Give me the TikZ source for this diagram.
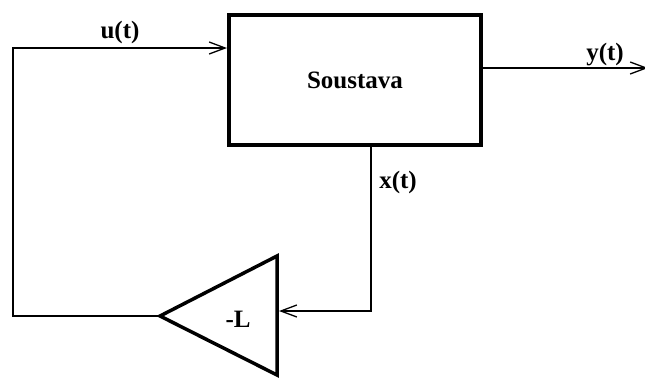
\documentclass[tikz,border=0pt]{standalone}
\usepackage{fontspec}
\setmainfont{Liberation Serif}
\usetikzlibrary{arrows.meta,positioning,calc}

\begin{document}
\begin{tikzpicture}[
    x=1pt, y=-1pt,
    blok/.style={draw, line width=4pt, minimum width=252pt, minimum height=130pt, font=\fontsize{25}{28}\selectfont\bfseries},
    sig/.style={-{Straight Barb[length=16pt, width=12pt]}, line width=1.3pt},
    gain/.style={line width=3.5pt, miter limit=20},
    lbl/.style={font=\fontsize{25}{28}\selectfont\bfseries, inner sep=0pt},
]
\useasboundingbox (0,0) rectangle (645,378);

\node[blok] (sys) at (355,80) {Soustava};

% zesilovac -L
\coordinate (tip) at (160,316);
\coordinate (gtop) at (277,256);
\coordinate (gbot) at (277,375);
\coordinate (gin) at (279,311);
\draw[gain] (tip) -- (gtop) -- (gbot) -- cycle;
\node[lbl] (L) at (238,319) {-L};

\coordinate (corner) at (13,48);
\coordinate (yend) at (648,68);

\draw[sig] (tip) -| (corner) -- (corner -| sys.west);
\draw[sig] (sys.east |- yend) -- (yend);
\draw[sig] ([xshift=16pt]sys.south) |- (gin);

\node[lbl] (u) at (120,32) {u(t)};
\node[lbl] (y) at (605,55) {y(t)};
\node[lbl] (x) at (398,182) {x(t)};
\end{tikzpicture}
\end{document}
